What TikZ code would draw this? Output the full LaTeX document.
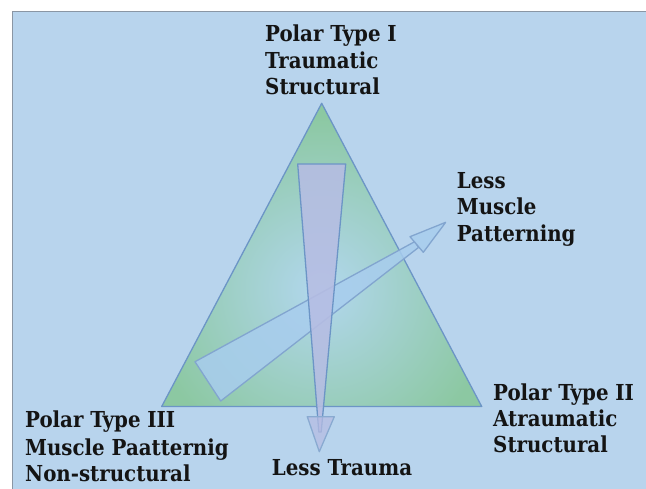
\documentclass[tikz,border=0pt]{standalone}
\usepackage{fontspec}
\setmainfont{DejaVu Serif Condensed}
\usetikzlibrary{calc}
\definecolor{panel}{HTML}{B8D4ED}
\definecolor{frameline}{HTML}{8A96A4}
\definecolor{tri}{HTML}{8CC8A2}
\definecolor{glow}{HTML}{B2D7EE}
\definecolor{edge}{HTML}{6C95C6}
\definecolor{lav}{HTML}{B6BDE3}
\definecolor{sky}{HTML}{A8CDEE}
\tikzset{
  lbl/.style={anchor=base west, inner sep=0pt, font=\bfseries\fontsize{22}{26}\selectfont, text=black!92},
  outline/.style={draw=edge, line width=1.3pt, line join=round},
}
\begin{document}
\begin{tikzpicture}[x=1pt, y=-1pt]
\useasboundingbox (0,0) rectangle (646,489);
\fill[white] (0,0) rectangle (646,489);
% blue panel with its thin grey frame
\draw[fill=panel, draw=frameline, line width=1pt] (12,12) rectangle (660,500);

% the triangle, green at the rim and pale blue inside
\coordinate (apex) at (321.7,103.3);
\coordinate (bl) at (161.7,406.5);
\coordinate (br) at (481.7,406.5);
\begin{scope}
  \clip (apex) -- (br) -- (bl) -- cycle;
  \fill[tri] (apex) -- (br) -- (bl) -- cycle;
  \shade[inner color=glow, outer color=tri] (321,290) circle (175);
\end{scope}
\draw[outline] (apex) -- (br) -- (bl) -- cycle;

% diagonal wedge towards "Less Muscle Patterning"
\coordinate (d1) at (195,361.7);
\coordinate (d2) at (220.7,401);
\coordinate (d3) at (418.6,247.4);
\coordinate (d4) at (414.8,241.6);
\coordinate (h1) at (410,236.7);
\coordinate (h2) at (423.3,252.3);
\coordinate (htip) at (445.7,222.3);
\filldraw[outline, fill=sky, fill opacity=0.85, draw=edge!85] (d1) -- (d2) -- (d3) -- (d4) -- cycle;
\filldraw[outline, fill=sky, fill opacity=0.85, draw=edge!85] (h1) -- (htip) -- (h2) -- cycle;

% vertical wedge towards "Less Trauma"
\coordinate (v1) at (297.7,164);
\coordinate (v2) at (345.7,164);
\coordinate (v3) at (321.2,432);
\coordinate (v4) at (318.8,432);
\coordinate (a1) at (307.3,416.7);
\coordinate (a2) at (334.3,416.7);
\coordinate (atip) at (319.3,451.7);
\filldraw[outline, fill=lav, fill opacity=0.88] (v1) -- (v2) -- (v3) -- (v4) -- cycle;
\filldraw[outline, fill=lav, fill opacity=0.75, draw=edge!80] (a1) -- (a2) -- (atip) -- cycle;

% labels
\node[lbl] (p1a) at (265,41.7) {Polar Type I};
\node[lbl] (p1b) at (265,68.3) {Traumatic};
\node[lbl] (p1c) at (265,95) {Structural};

\node[lbl] (m1) at (456.7,188.3) {Less};
\node[lbl] (m2) at (456.7,215) {Muscle};
\node[lbl] (m3) at (456.7,241.7) {Patterning};

\node[lbl] (p2a) at (493,400) {Polar Type II};
\node[lbl] (p2b) at (493,426.7) {Atraumatic};
\node[lbl] (p2c) at (493,453) {Structural};

\node[lbl] (p3a) at (25,428) {Polar Type III};
\node[lbl] (p3b) at (25,455) {Muscle Paatternig};
\node[lbl] (p3c) at (25,481.7) {Non-structural};

\node[lbl] (lt) at (271.7,475) {Less Trauma};
\end{tikzpicture}
\end{document}
